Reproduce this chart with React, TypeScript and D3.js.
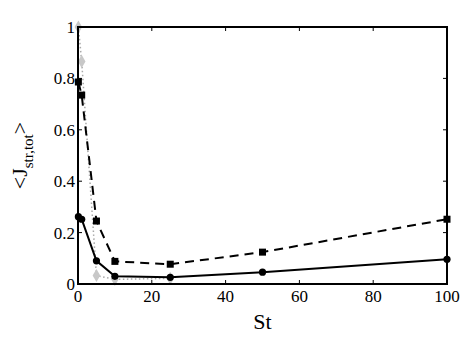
import * as d3 from "d3";

// Stokes numbers and averaged values for each series
const stSquares = [0.1, 1, 5, 10, 25, 50, 100];
const jSquares = [0.786, 0.735, 0.245, 0.088, 0.077, 0.124, 0.252];

const stCircles = [0.1, 1, 5, 10, 25, 50, 100];
const jCircles = [0.262, 0.252, 0.09, 0.03, 0.026, 0.046, 0.096];

const stGray = [0.1, 1, 5, 10, 25];
const jGray = [1.0, 0.866, 0.033, 0.018, 0.022];

const xTicks = [0, 20, 40, 60, 80, 100];
const yTicks = [0, 0.2, 0.4, 0.6, 0.8, 1];

const W = 476;
const H = 347;
const margin = { left: 78, right: 29, top: 27, bottom: 63 };
const serif = "'Liberation Serif', 'DejaVu Serif', serif";

export default function App() {
  const x = d3.scaleLinear().domain([0, 100]).range([margin.left, W - margin.right]);
  const y = d3.scaleLinear().domain([0, 1]).range([H - margin.bottom, margin.top]);

  const line = d3
    .line<[number, number]>()
    .x((d) => x(d[0]))
    .y((d) => y(d[1]));

  const sq = d3.zip(stSquares, jSquares) as [number, number][];
  const ci = d3.zip(stCircles, jCircles) as [number, number][];
  const gr = d3.zip(stGray, jGray) as [number, number][];

  const x0 = x.range()[0];
  const x1 = x.range()[1];
  const y0 = y.range()[0];
  const y1 = y.range()[1];
  const tk = 4;

  return (
    <svg
      width={W}
      height={H}
      style={{ position: "absolute", left: 0, top: 0, background: "#fff" }}
    >
      {/* gray dotted series */}
      <path d={line(gr) ?? ""} fill="none" stroke="#a8a8a8" strokeWidth={1.5} strokeDasharray="1.5 2.5" />
      {gr.map((d, i) => (
        <path
          key={"g" + i}
          d={d3.symbol(d3.symbolDiamond, 50)() ?? ""}
          transform={`translate(${x(d[0])},${y(d[1])})`}
          fill="#c8c8c8"
        />
      ))}

      {/* dashed series with squares */}
      <path d={line(sq) ?? ""} fill="none" stroke="#000" strokeWidth={2} strokeDasharray="9 6" />
      {sq.map((d, i) => (
        <rect key={"s" + i} x={x(d[0]) - 3.5} y={y(d[1]) - 3.5} width={7} height={7} fill="#000" />
      ))}

      {/* solid series with circles */}
      <path d={line(ci) ?? ""} fill="none" stroke="#000" strokeWidth={2} />
      {ci.map((d, i) => (
        <circle key={"c" + i} cx={x(d[0])} cy={y(d[1])} r={3.6} fill="#000" />
      ))}

      {/* box */}
      <rect x={x0} y={y1} width={x1 - x0} height={y0 - y1} fill="none" stroke="#000" strokeWidth={2} />

      {xTicks.map((t) => (
        <g key={"xt" + t}>
          <line x1={x(t)} x2={x(t)} y1={y0} y2={y0 - tk} stroke="#000" />
          <line x1={x(t)} x2={x(t)} y1={y1} y2={y1 + tk} stroke="#000" />
          <text x={x(t)} y={y0 + 18} textAnchor="middle" fontFamily={serif} fontSize={17}>
            {t}
          </text>
        </g>
      ))}
      {yTicks.map((t) => (
        <g key={"yt" + t}>
          <line x1={x0} x2={x0 + tk} y1={y(t)} y2={y(t)} stroke="#000" />
          <line x1={x1} x2={x1 - tk} y1={y(t)} y2={y(t)} stroke="#000" />
          <text x={x0 - 3} y={y(t) + 6} textAnchor="end" fontFamily={serif} fontSize={17}>
            {t}
          </text>
        </g>
      ))}

      <text x={(x0 + x1) / 2} y={y0 + 45} textAnchor="middle" fontFamily={serif} fontSize={22}>
        St
      </text>

      <text
        transform={`translate(27,${(y0 + y1) / 2}) rotate(-90)`}
        textAnchor="middle"
        fontFamily={serif}
        fontSize={22}
      >
        {"<J"}
        <tspan fontSize={15} dy={6}>str,tot</tspan>
        <tspan dy={-6}>{">"}</tspan>
      </text>
    </svg>
  );
}
